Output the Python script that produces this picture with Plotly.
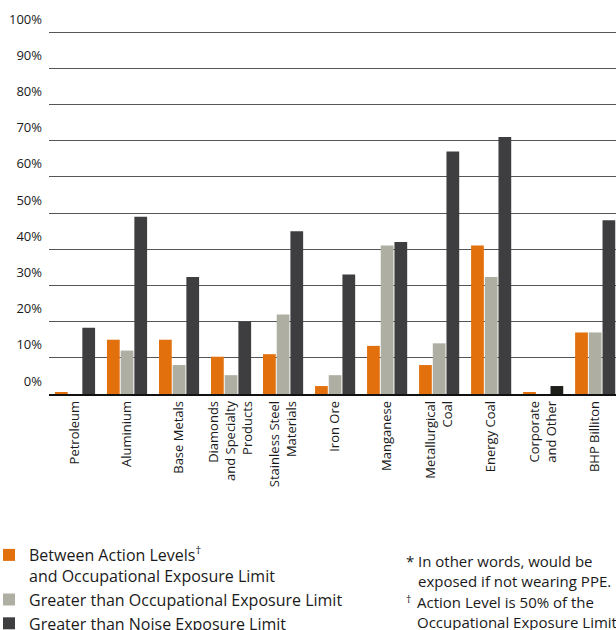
import plotly.graph_objects as go

categories = ["Petroleum", "Aluminium", "Base Metals", "Diamonds<br>and Specialty<br>Products",
              "Stainless Steel<br>Materials", "Iron Ore", "Manganese", "Metallurgical<br>Coal",
              "Energy Coal", "Corporate<br>and Other", "BHP Billiton"]
between_action = [0.3, 15, 15, 10.3, 11, 2.2, 13.3, 8, 41, 0.3, 17]
over_oel = [0, 12, 8, 5.2, 22, 5.2, 41, 14, 32.3, 0, 17]
over_noise = [18.3, 49, 32.3, 20, 45, 33, 42, 67, 71, 2.2, 48]
series_names = ["Between Action Levels<sup>†</sup><br>and Occupational Exposure Limit",
                "Greater than Occupational Exposure Limit",
                "Greater than Noise Exposure Limit"]
y_tickvals = [0, 10, 20, 30, 40, 50, 60, 70, 80, 90, 100]
y_ticktext = ["0%", "10%", "20%", "30%", "40%", "50%", "60%", "70%", "80%", "90%", "100%"]

FONT = "Open Sans"
ORANGE = "#E2700C"
GREY = "#AEAFA2"
DARK = "#3E3E40"
noise_colors = [DARK] * len(categories)
noise_colors[9] = "#1D1E1A"

W, H = 616, 630
ML, MT, MB, MR = 49, 31, 236, 0
PW, PH = W - ML - MR, H - MT - MB


def sx(px):
    return (px - ML) / PW


def sy(py):
    return (H - MB - py) / PH


fig = go.Figure()
fig.add_trace(go.Bar(x=categories, y=between_action, name=series_names[0],
                     marker=dict(color=ORANGE, line=dict(width=0))))
fig.add_trace(go.Bar(x=categories, y=over_oel, name=series_names[1],
                     marker=dict(color=GREY, line=dict(width=0))))
fig.add_trace(go.Bar(x=categories, y=over_noise, name=series_names[2],
                     marker=dict(color=noise_colors, line=dict(width=0))))

fig.update_layout(
    width=W, height=H,
    margin=dict(l=ML, r=MR, t=MT, b=MB, autoexpand=False),
    paper_bgcolor="white", plot_bgcolor="white",
    barmode="group", bargap=0.21, bargroupgap=0.07,
    font=dict(family=FONT, size=13, color="#1a1a1a"),
    showlegend=True,
    legend=dict(
        x=sx(-11), y=sy(538),
        xanchor="left", yanchor="top", valign="top",
        font=dict(family=FONT, size=16, color="#1a1a1a"),
        bgcolor="rgba(0,0,0,0)", borderwidth=0, tracegroupgap=0,
        traceorder="normal",
    ),
    xaxis=dict(
        range=[-0.5, 10.4], tickangle=-90, showgrid=False, zeroline=False,
        showline=True, linecolor="#111", linewidth=1.5, ticks="",
        tickfont=dict(family=FONT, size=13, color="#1a1a1a"),
        fixedrange=True, automargin=False,
    ),
    yaxis=dict(
        range=[0, 100.3], tickvals=y_tickvals, ticktext=y_ticktext,
        showgrid=True, gridcolor="#555555", gridwidth=1, zeroline=False,
        showline=False, ticks="", ticklabelshift=-13, ticklabelstandoff=6,
        tickfont=dict(family=FONT, size=13, color="#1a1a1a"),
        fixedrange=True, automargin=False,
    ),
)

fn_font = dict(family=FONT, size=15, color="#1a1a1a")
fig.add_annotation(xref="paper", yref="paper", x=sx(404), y=sy(549),
                   xanchor="left", yanchor="top", text="*", showarrow=False, font=fn_font)
fig.add_annotation(xref="paper", yref="paper", x=sx(416), y=sy(549),
                   xanchor="left", yanchor="top", align="left", showarrow=False, font=fn_font,
                   text="In other words, would be<br>exposed if not wearing PPE.")
fig.add_annotation(xref="paper", yref="paper", x=sx(404), y=sy(590),
                   xanchor="left", yanchor="top", text="<sup>†</sup>", showarrow=False, font=fn_font)
fig.add_annotation(xref="paper", yref="paper", x=sx(415), y=sy(590),
                   xanchor="left", yanchor="top", align="left", showarrow=False, font=fn_font,
                   text="Action Level is 50% of the<br>Occupational Exposure Limit")

fig.write_html(
    "out.html",
    config={"displayModeBar": False},
    post_script="document.body.style.margin='0';document.body.style.overflow='hidden';",
)
